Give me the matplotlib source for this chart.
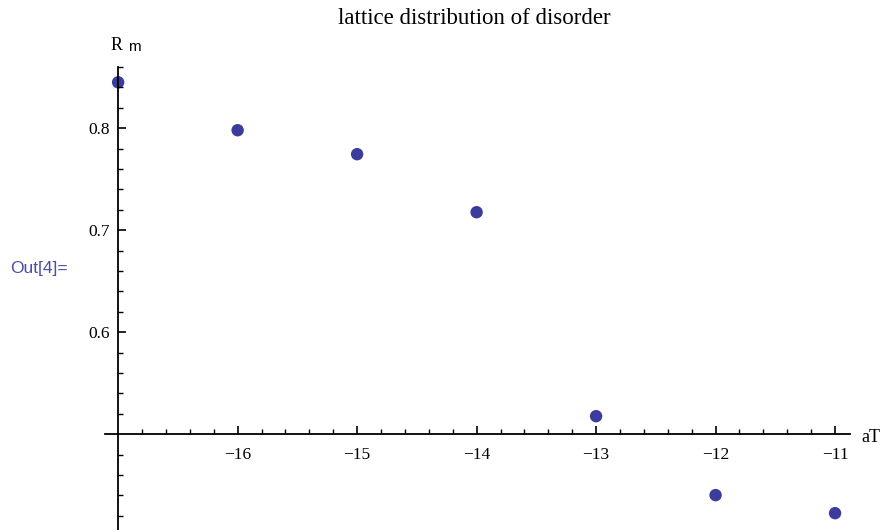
import numpy as np
import matplotlib.pyplot as plt
from matplotlib.ticker import FixedLocator, FormatStrFormatter

# data
aT = [-17, -16, -15, -14, -13, -12, -11]
Rm = [0.845, 0.798, 0.7745, 0.7176, 0.5176, 0.4402, 0.4225]
x_major = [-16, -15, -14, -13, -12, -11]
y_major = [0.6, 0.7, 0.8]

fig = plt.figure(figsize=(8.85, 5.3), dpi=100)
ax = fig.add_axes([105 / 885, 0.0, (850 - 105) / 885, 1 - 67 / 530])

ax.scatter(aT, Rm, s=80, color='#3c3c9c', zorder=1, clip_on=False,
           edgecolors='none')

ax.set_xlim(-17.11, -10.875)
ax.set_ylim(0.406, 0.86)

for side in ['top', 'right']:
    ax.spines[side].set_visible(False)
ax.spines['left'].set_position(('data', -17))
ax.spines['bottom'].set_position(('data', 0.5))
for side in ['left', 'bottom']:
    ax.spines[side].set_linewidth(1.3)
    ax.spines[side].set_zorder(3)

# ticks, Mathematica style
x_minor = [v for v in np.arange(-16.8, -10.9, 0.2)
           if min(abs(v - m) for m in x_major) > 1e-6]
y_minor = [v for v in np.arange(0.42, 0.861, 0.02)
           if min(abs(v - m) for m in y_major + [0.5]) > 1e-6]
ax.xaxis.set_major_locator(FixedLocator(x_major))
ax.xaxis.set_minor_locator(FixedLocator(x_minor))
ax.yaxis.set_major_locator(FixedLocator(y_major))
ax.yaxis.set_minor_locator(FixedLocator(y_minor))
ax.xaxis.set_major_formatter(
    plt.FuncFormatter(lambda v, p: '\u2212%d' % abs(v)))
ax.yaxis.set_major_formatter(FormatStrFormatter('%.1f'))

ax.tick_params(which='major', direction='in', length=6, width=1.2,
               labelsize=12.5, pad=9)
ax.tick_params(axis='y', which='major', pad=6)
ax.tick_params(which='minor', direction='in', length=3.5, width=1.0)
for lab in ax.get_xticklabels() + ax.get_yticklabels():
    lab.set_family('Liberation Serif')

ax.patch.set_visible(False)

fig.text(474 / 885, 1 - 19 / 530, 'lattice distribution of disorder',
         ha='center', va='center', fontsize=16.5, family='Liberation Serif')
fig.text(123 / 885, 1 - 46 / 530, 'R', ha='right', va='center',
         fontsize=13, family='Liberation Serif')
fig.text(128 / 885, 1 - 47 / 530, 'm', ha='left', va='center',
         fontsize=11, family='Liberation Sans')
fig.text(861 / 885, 1 - 437 / 530, 'aT', ha='left', va='center',
         fontsize=13, family='Liberation Serif')
fig.text(10 / 885, 1 - 268 / 530, 'Out[4]=', ha='left', va='center',
         fontsize=12.5, family='Liberation Sans', color='#4b4ba8')

fig.savefig('out.png', dpi=100)
